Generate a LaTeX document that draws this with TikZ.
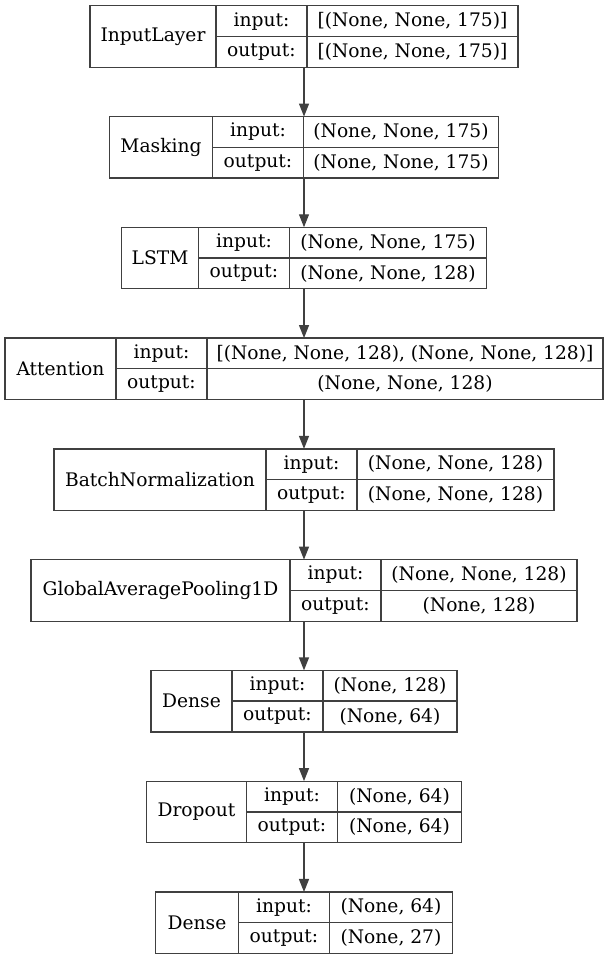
\documentclass[tikz,border=0pt]{standalone}
\usepackage{fontspec}
\setmainfont{DejaVu Serif}
\usepackage{tikz}
\usetikzlibrary{arrows.meta, positioning}
\definecolor{edgegray}{RGB}{64, 64, 64}
\tikzstyle{namecell} = [rectangle, draw=edgegray, line width=1.3pt, inner sep=0pt, outer sep=0pt, minimum height=61.5pt]
\tikzstyle{portcell} = [rectangle, draw=edgegray, line width=1.3pt, inner sep=0pt, outer sep=0pt, minimum height=30.75pt, minimum width=91pt]
\tikzstyle{shapecell} = [rectangle, draw=edgegray, line width=1.3pt, inner sep=0pt, outer sep=0pt, minimum height=30.75pt]
\tikzstyle{arrow} = [-{Triangle[length=13pt, width=10pt]}, line width=1.3pt, draw=edgegray]

\begin{document}
\begin{tikzpicture}[x=1pt, y=-1pt, font=\fontsize{18.67pt}{22pt}\selectfont]
    \useasboundingbox (0,0) rectangle (608,959);
    % all layers are centred on this vertical line
    \coordinate (axis) at (304, 0);

    % InputLayer
    \node[namecell, minimum width=126pt] (input) at (153, 36.5) {InputLayer};
    \node[portcell, anchor=north west] (input-in) at (input.north east) {input:};
    \node[portcell, anchor=south west] (input-out) at (input.south east) {output:};
    \node[shapecell, minimum width=211pt, anchor=north west] (input-inshape) at (input-in.north east) {[(None, None, 175)]};
    \node[shapecell, minimum width=211pt, anchor=north west] (input-outshape) at (input-out.north east) {[(None, None, 175)]};

    % Masking
    \node[namecell, minimum width=103pt] (masking) at (161, 147.3) {Masking};
    \node[portcell, anchor=north west] (masking-in) at (masking.north east) {input:};
    \node[portcell, anchor=south west] (masking-out) at (masking.south east) {output:};
    \node[shapecell, minimum width=195pt, anchor=north west] (masking-inshape) at (masking-in.north east) {(None, None, 175)};
    \node[shapecell, minimum width=195pt, anchor=north west] (masking-outshape) at (masking-out.north east) {(None, None, 175)};

    % LSTM
    \node[namecell, minimum width=77pt] (lstm) at (160, 258) {LSTM};
    \node[portcell, anchor=north west] (lstm-in) at (lstm.north east) {input:};
    \node[portcell, anchor=south west] (lstm-out) at (lstm.south east) {output:};
    \node[shapecell, minimum width=197pt, anchor=north west] (lstm-inshape) at (lstm-in.north east) {(None, None, 175)};
    \node[shapecell, minimum width=197pt, anchor=north west] (lstm-outshape) at (lstm-out.north east) {(None, None, 128)};

    % Attention
    \node[namecell, minimum width=111pt] (attention) at (60.5, 368.8) {Attention};
    \node[portcell, anchor=north west] (attention-in) at (attention.north east) {input:};
    \node[portcell, anchor=south west] (attention-out) at (attention.south east) {output:};
    \node[shapecell, minimum width=396pt, anchor=north west] (attention-inshape) at (attention-in.north east) {[(None, None, 128), (None, None, 128)]};
    \node[shapecell, minimum width=396pt, anchor=north west] (attention-outshape) at (attention-out.north east) {(None, None, 128)};

    % BatchNormalization
    \node[namecell, minimum width=212pt] (batchnorm) at (160, 479.6) {BatchNormalization};
    \node[portcell, anchor=north west] (batchnorm-in) at (batchnorm.north east) {input:};
    \node[portcell, anchor=south west] (batchnorm-out) at (batchnorm.south east) {output:};
    \node[shapecell, minimum width=197pt, anchor=north west] (batchnorm-inshape) at (batchnorm-in.north east) {(None, None, 128)};
    \node[shapecell, minimum width=197pt, anchor=north west] (batchnorm-outshape) at (batchnorm-out.north east) {(None, None, 128)};

    % GlobalAveragePooling1D
    \node[namecell, minimum width=259pt] (pooling) at (160.5, 590.4) {GlobalAveragePooling1D};
    \node[portcell, anchor=north west] (pooling-in) at (pooling.north east) {input:};
    \node[portcell, anchor=south west] (pooling-out) at (pooling.south east) {output:};
    \node[shapecell, minimum width=196pt, anchor=north west] (pooling-inshape) at (pooling-in.north east) {(None, None, 128)};
    \node[shapecell, minimum width=196pt, anchor=north west] (pooling-outshape) at (pooling-out.north east) {(None, 128)};

    % Dense
    \node[namecell, minimum width=81pt] (dense) at (191.5, 701.1) {Dense};
    \node[portcell, anchor=north west] (dense-in) at (dense.north east) {input:};
    \node[portcell, anchor=south west] (dense-out) at (dense.south east) {output:};
    \node[shapecell, minimum width=134pt, anchor=north west] (dense-inshape) at (dense-in.north east) {(None, 128)};
    \node[shapecell, minimum width=134pt, anchor=north west] (dense-outshape) at (dense-out.north east) {(None, 64)};

    % Dropout
    \node[namecell, minimum width=100pt] (dropout) at (196.5, 811.9) {Dropout};
    \node[portcell, anchor=north west] (dropout-in) at (dropout.north east) {input:};
    \node[portcell, anchor=south west] (dropout-out) at (dropout.south east) {output:};
    \node[shapecell, minimum width=124pt, anchor=north west] (dropout-inshape) at (dropout-in.north east) {(None, 64)};
    \node[shapecell, minimum width=124pt, anchor=north west] (dropout-outshape) at (dropout-out.north east) {(None, 64)};

    % Dense (output)
    \node[namecell, minimum width=83pt] (output) at (197, 922.7) {Dense};
    \node[portcell, anchor=north west] (output-in) at (output.north east) {input:};
    \node[portcell, anchor=south west] (output-out) at (output.south east) {output:};
    \node[shapecell, minimum width=123pt, anchor=north west] (output-inshape) at (output-in.north east) {(None, 64)};
    \node[shapecell, minimum width=123pt, anchor=north west] (output-outshape) at (output-out.north east) {(None, 27)};

    % Arrows between layers
    \draw[arrow] (input.south -| axis) -- (masking.north -| axis);
    \draw[arrow] (masking.south -| axis) -- (lstm.north -| axis);
    \draw[arrow] (lstm.south -| axis) -- (attention.north -| axis);
    \draw[arrow] (attention.south -| axis) -- (batchnorm.north -| axis);
    \draw[arrow] (batchnorm.south -| axis) -- (pooling.north -| axis);
    \draw[arrow] (pooling.south -| axis) -- (dense.north -| axis);
    \draw[arrow] (dense.south -| axis) -- (dropout.north -| axis);
    \draw[arrow] (dropout.south -| axis) -- (output.north -| axis);
\end{tikzpicture}
\end{document}
